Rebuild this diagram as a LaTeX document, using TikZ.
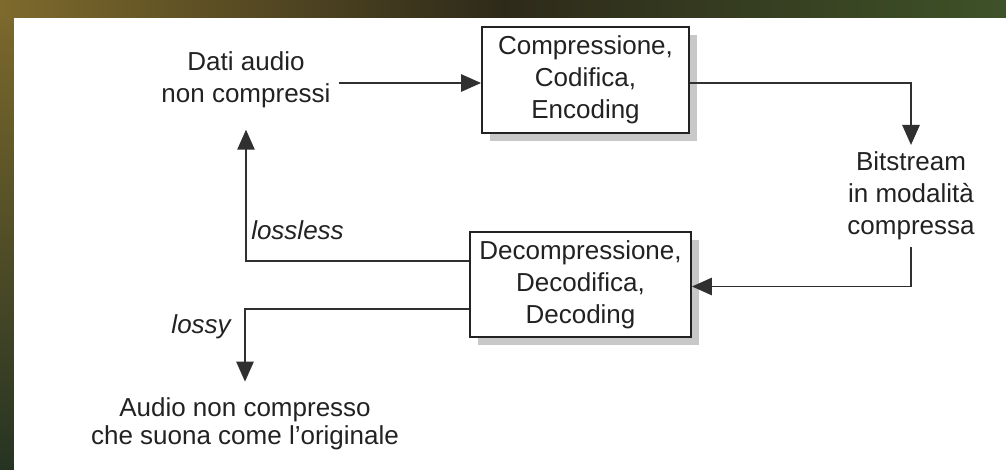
\documentclass[tikz,border=0pt]{standalone}
\usepackage{fontspec}
\setmainfont{Liberation Sans}
\usetikzlibrary{arrows.meta,shadows}
\definecolor{ink}{HTML}{222222}
\definecolor{wire}{HTML}{303030}
\definecolor{shadowgrey}{HTML}{C8C8C8}
\definecolor{bgolive}{HTML}{7E6A2C}
\definecolor{bgdark}{HTML}{2E2A1A}
\definecolor{bggreen}{HTML}{3E5228}
\definecolor{bgbottom}{HTML}{263322}
\begin{document}
\begin{tikzpicture}[x=0.75pt,y=-0.75pt,
  every node/.style={text=ink},
  txt/.style={align=center,inner sep=0pt,
    font=\fontsize{19.5pt}{24pt}\selectfont},
  lbl/.style={inner sep=0pt,font=\fontsize{19.5pt}{24pt}\selectfont\itshape},
  box/.style={txt,draw=ink,line width=1.4pt,fill=white,
    general shadow={fill=shadowgrey,shadow xshift=6pt,shadow yshift=-6pt}},
  arr/.style={draw=wire,line width=1.3pt,-{Triangle[length=15pt,width=13pt]}}]
\useasboundingbox (0,0) rectangle (1006,470);

% textured backdrop around the white sheet
\shade[top color=bgolive,bottom color=bgbottom] (0,0) rectangle (1006,470);
\shade[left color=bgolive,right color=bggreen,middle color=bgdark] (0,0) rectangle (1006,18);
\fill[white] (14,18) rectangle (1006,470);

% blocks
\node[box,minimum width=155.25pt,minimum height=79.5pt] (enc) at (585.5,80)
  {Compressione,\\Codifica,\\Encoding};
\node[box,minimum width=165.75pt,minimum height=78.75pt] (dec) at (580.5,284.5)
  {Decompressione,\\Decodifica,\\Decoding};

% free-standing texts
\node[txt] (src) at (246,80) {Dati audio\\non compressi};
\node[txt] (bits) at (911,196) {Bitstream\\in modalità\\compressa};
\node[txt,font=\fontsize{19.5pt}{21pt}\selectfont] (out) at (245,424)
  {Audio non compresso\\che suona come l’originale};
\node[lbl,anchor=base west] (lossless) at (251,240) {lossless};
\node[lbl,anchor=base east] (lossy) at (231,333) {lossy};

% connectors
\draw[arr] ([xshift=6pt,yshift=-2.25pt]src.east) -- ([yshift=-2.25pt]enc.west);
\draw[arr,shorten >=5pt] ([yshift=-2.25pt]enc.east) -| (bits.north);
\draw[arr] ([yshift=-5pt]bits.south) |- ([yshift=-1.5pt]dec.east);
\draw[arr,shorten >=16pt] ([yshift=17.6pt]dec.west) -| (src.south);
\draw[arr,shorten >=12pt] ([yshift=-18.4pt]dec.west) -| (out.north);
\end{tikzpicture}
\end{document}
